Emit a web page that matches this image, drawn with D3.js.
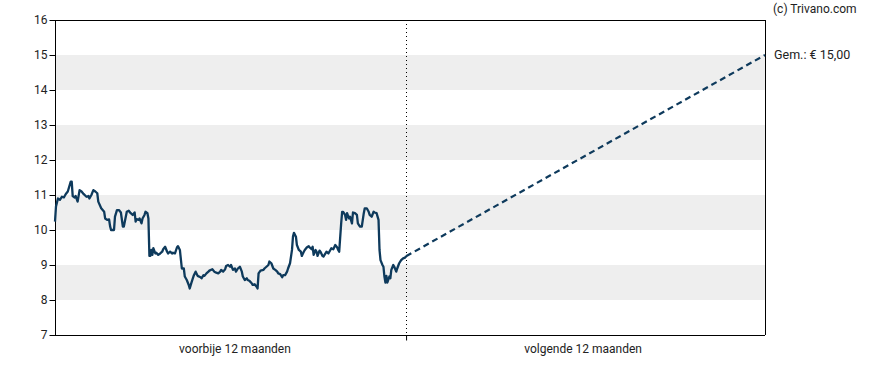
<!DOCTYPE html>
<html><head><meta charset="utf-8">
<script src="https://cdn.jsdelivr.net/npm/d3@7"></script>
<style>body{margin:0;background:#fff}svg{display:block;font-family:Roboto,"Noto Sans",sans-serif}</style>
</head><body><svg id="c" width="888" height="370"></svg>
<script>
// day offsets relative to today (past year)
const pastDays = [-357,-356,-354,-352,-350,-348,-346,-344,-341,-340,-339,-337,-336,-334,-332,-330,-328,-325,-323,-322,-320,-318,-316,-314,-313,-310,-307,-306,-304,-302,-301,-300,-297,-296,-294,-292,-290,-288,-287,-284,-282,-280,-278,-276,-275,-274,-272,-271,-269,-268,-266,-265,-263,-262,-261,-260,-259,-258,-257,-255,-254,-252,-250,-248,-247,-245,-243,-242,-240,-238,-237,-235,-233,-232,-230,-228,-226,-225,-223,-221,-220,-218,-216,-214,-212,-209,-208,-206,-205,-203,-201,-200,-197,-195,-193,-191,-189,-188,-186,-184,-183,-181,-179,-178,-176,-174,-173,-171,-169,-167,-166,-164,-162,-161,-159,-157,-156,-154,-152,-151,-150,-148,-145,-144,-142,-140,-139,-137,-135,-133,-131,-130,-128,-126,-125,-123,-121,-120,-118,-116,-115,-114,-112,-111,-109,-107,-106,-104,-103,-101,-99,-98,-96,-95,-94,-92,-91,-90,-88,-87,-85,-84,-82,-81,-79,-77,-76,-74,-72,-70,-69,-68,-66,-65,-64,-62,-61,-60,-58,-57,-55,-54,-52,-50,-49,-47,-45,-43,-42,-40,-38,-37,-35,-33,-32,-30,-28,-27,-26,-24,-23,-22,-21,-20,-19,-17,-16,-15,-13,-12,-10,-9,-7,-5,-3,-1,0];
const pastPrices = [10.24,10.67,10.90,10.86,10.95,10.93,11.03,11.10,11.38,11.38,10.97,10.93,10.97,10.81,11.14,11.10,11.03,10.95,10.97,10.90,11.00,11.14,11.10,11.05,10.81,10.62,10.52,10.33,10.29,10.30,10.11,10.00,10.00,10.38,10.57,10.57,10.50,10.10,10.10,10.52,10.55,10.48,10.43,10.50,10.24,10.31,10.29,10.33,10.19,10.33,10.43,10.52,10.48,10.33,9.26,9.26,9.43,9.29,9.48,9.33,9.35,9.29,9.33,9.38,9.45,9.52,9.38,9.33,9.38,9.33,9.35,9.33,9.50,9.54,9.43,8.90,8.90,8.67,8.57,8.43,8.33,8.52,8.69,8.81,8.69,8.65,8.62,8.71,8.69,8.76,8.81,8.84,8.88,8.81,8.78,8.76,8.81,8.86,8.81,8.88,8.97,9.00,8.95,9.00,8.86,8.90,8.81,8.90,8.95,8.81,8.67,8.57,8.62,8.57,8.54,8.48,8.43,8.45,8.38,8.33,8.76,8.84,8.86,8.90,8.95,9.00,9.10,9.05,8.90,8.86,8.81,8.76,8.74,8.65,8.71,8.71,8.81,8.90,9.05,9.43,9.81,9.92,9.81,9.57,9.43,9.38,9.26,9.38,9.43,9.50,9.54,9.50,9.45,9.52,9.29,9.43,9.38,9.26,9.41,9.38,9.26,9.24,9.33,9.38,9.33,9.43,9.48,9.45,9.57,9.50,9.43,9.38,10.19,10.52,10.52,10.43,10.29,10.48,10.33,10.38,10.19,10.50,10.48,10.43,10.19,10.10,10.10,10.48,10.62,10.62,10.52,10.43,10.38,10.52,10.50,10.48,10.29,9.43,9.14,9.00,8.95,8.67,8.50,8.69,8.50,8.67,8.62,8.86,9.00,8.95,8.81,8.90,9.05,9.14,9.19,9.21,9.25];
// forecast toward analyst target
const forecastDays = [0, 365];
const forecastPrices = [9.25, 15.00];
const yTicks = [7,8,9,10,11,12,13,14,15,16];
const bands = [[14,15],[12,13],[10,11],[8,9]];
const periodLabels = ["voorbije 12 maanden","volgende 12 maanden"];
const periodLabelDays = [-174, 180];
const copyright = "(c) Trivano.com";
const targetLabel = "Gem.: € 15,00";

const svg = d3.select("#c");
const L = 55, R = 765, T = 20, B = 335;
const x = d3.scaleLinear().domain([-357, 365]).range([L, R]);
const y = d3.scaleLinear().domain([7, 16]).range([B, T]);

svg.append("g").selectAll("rect").data(bands).join("rect")
  .attr("x", L).attr("width", R - L)
  .attr("y", d => y(d[1])).attr("height", d => y(d[0]) - y(d[1]))
  .attr("fill", "#eeeeee");

// frame top/right
svg.append("line").attr("x1", L).attr("x2", R).attr("y1", y(16)+0.5).attr("y2", y(16)+0.5).attr("stroke", "#000");
svg.append("line").attr("x1", R+0.5).attr("x2", R+0.5).attr("y1", T).attr("y2", B).attr("stroke", "#000");

// today divider
svg.append("line").attr("x1", Math.round(x(0))+0.5).attr("x2", Math.round(x(0))+0.5)
  .attr("y1", T).attr("y2", B).attr("stroke", "#000").attr("stroke-dasharray", "1,3");

const yAxis = svg.append("g").attr("transform", `translate(${L+0.5},0)`)
  .call(d3.axisLeft(y).tickValues(yTicks).tickSize(6).tickPadding(2).tickFormat(d3.format("d")));
yAxis.select(".domain").attr("stroke", "#000").attr("d", `M0,${T}V${B}`);
yAxis.selectAll("text").attr("font-size", 12).attr("fill", "#222").attr("font-family", "Roboto");

const xAxis = svg.append("g").attr("transform", `translate(0,${B+0.5})`)
  .call(d3.axisBottom(x).tickValues([0]).tickSize(5).tickFormat(""));
xAxis.select(".domain").attr("d", `M${L},0H${R}`).attr("stroke", "#000");

svg.append("g").selectAll("text").data(periodLabels).join("text")
  .attr("x", (d, i) => x(periodLabelDays[i])).attr("y", 353)
  .attr("text-anchor", "middle").attr("font-size", 12).attr("fill", "#222").text(d => d);

const line = d3.line().x(d => x(d[0])).y(d => y(d[1]));
svg.append("path").datum(pastDays.map((d, i) => [d, pastPrices[i]]))
  .attr("d", line).attr("fill", "none").attr("stroke", "#0e3a5c").attr("stroke-width", 2.3).attr("stroke-linejoin", "round");
svg.append("path").datum(forecastDays.map((d, i) => [d, forecastPrices[i]]))
  .attr("d", line).attr("fill", "none").attr("stroke", "#0e3a5c").attr("stroke-width", 2.2).attr("stroke-dasharray", "6,4");

svg.append("text").attr("x", 773).attr("y", 13).attr("font-size", 12).attr("fill", "#222").text(copyright);
svg.append("text").attr("x", 774).attr("y", y(15)).attr("dy", "0.35em").attr("font-size", 12.5).attr("fill", "#222").text(targetLabel);
</script></body></html>
